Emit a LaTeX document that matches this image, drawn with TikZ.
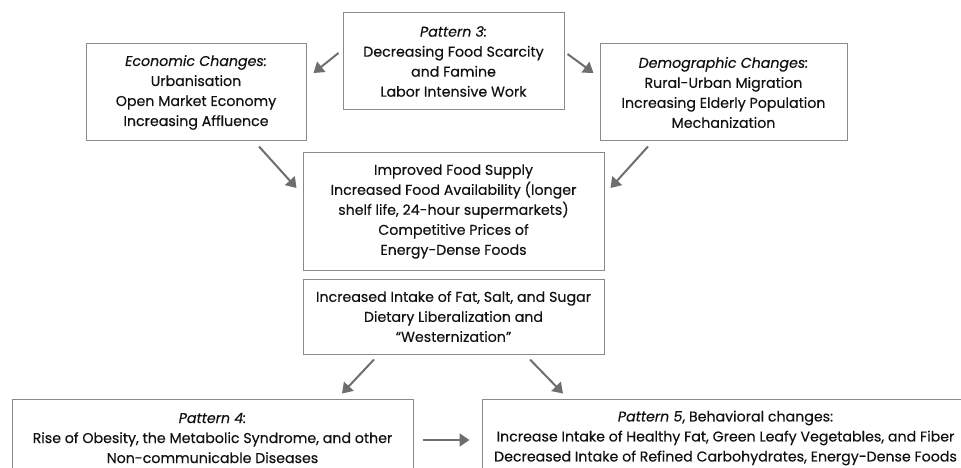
\documentclass[tikz,border=0pt]{standalone}
\usepackage{fontspec}
\setmainfont{Poppins}[FakeBold=0.3]
\usetikzlibrary{arrows.meta,calc}
\definecolor{boxline}{HTML}{8A8A8A}
\definecolor{arrowgray}{HTML}{6E6E6E}
\definecolor{inkgray}{HTML}{111111}
\tikzset{
 box/.style={draw=boxline,line width=1pt,align=center,inner sep=0pt,text=inkgray,
  font=\fontsize{14.2}{20}\selectfont},
 arr/.style={draw=arrowgray,line width=2pt,-{Triangle[length=10pt,width=13pt]}}
}
\begin{document}
\begin{tikzpicture}[x=1pt,y=-1pt]
 \useasboundingbox (0,0) rectangle (961,468);
 \clip (0,0) rectangle (961,468);
 % upper row
 \node[box,minimum width=221pt,minimum height=97pt](p3) at (453.5,61.5)
  {\textit{Pattern 3:}\\Decreasing Food Scarcity\\and Famine\\Labor Intensive Work};
 \node[box,minimum width=220pt,minimum height=97pt](econ) at (196,92.5)
  {\textit{Economic Changes:}\\Urbanisation\\Open Market Economy\\Increasing Affluence};
 \node[box,minimum width=247pt,minimum height=97pt](demo) at (723.5,92.5)
  {\textit{Demographic Changes:}\\Rural-Urban Migration\\Increasing Elderly Population\\Mechanization};
 % middle
 \node[box,minimum width=301pt,minimum height=117pt](supply) at (453.5,211.5)
  {Improved Food Supply\\Increased Food Availability (longer\\shelf life, 24-hour supermarkets)\\Competitive Prices of\\Energy-Dense Foods};
 \node[box,minimum width=301pt,minimum height=75pt](intake) at (453.5,316.5)
  {Increased Intake of Fat, Salt, and Sugar\\Dietary Liberalization and\\``Westernization''};
 % lower row
 \node[box,minimum width=401pt,minimum height=78pt](p4) at (212.5,438)
  {\textit{Pattern 4:}\\Rise of Obesity, the Metabolic Syndrome, and other\\Non-communicable Diseases};
 \node[box,minimum width=487pt,minimum height=78pt](p5) at (725.5,438)
  {\textit{Pattern 5}, Behavioral changes:\\Increase Intake of Healthy Fat, Green Leafy Vegetables, and Fiber\\Decreased Intake of Refined Carbohydrates, Energy-Dense Foods};
 % arrows
 \draw[arr] ($(p3.west)+(-4,-8.5)$) -- ($(econ.east)+(7,-19.5)$);
 \draw[arr] ($(p3.east)+(3,-7.5)$) -- ($(demo.west)+(-6,-19.5)$);
 \draw[arr] ($(econ.south)+(63,5)$) -- ($(supply.west)+(-6,-23.5)$);
 \draw[arr] ($(demo.south)+(-75.5,5)$) -- ($(supply.east)+(6,-23.5)$);
 \draw[arr] ($(intake.south)+(-79.5,5)$) -- ($(p4.north)+(129.5,-5)$);
 \draw[arr] ($(intake.south)+(76.5,5)$) -- ($(p5.north)+(-162.5,-5)$);
 \draw[arr] ($(p4.east)+(9,2)$) -- ($(p5.west)+(-12,2)$);
\end{tikzpicture}
\end{document}
